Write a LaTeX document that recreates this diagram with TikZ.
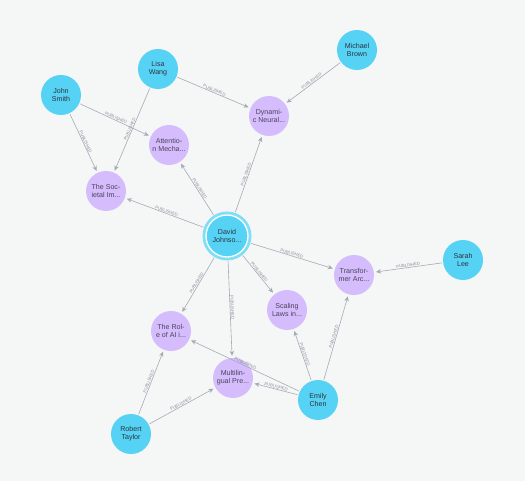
\documentclass[tikz,border=0pt]{standalone}
\usepackage{fontspec}
\setmainfont{Liberation Sans}
\usetikzlibrary{arrows.meta}
\definecolor{bg}{HTML}{F5F6F6}
\definecolor{person}{HTML}{56D3F4}
\definecolor{paper}{HTML}{D5BCFD}
\definecolor{edge}{HTML}{A5ABB6}
\definecolor{ptext}{HTML}{2A3440}
\definecolor{wtext}{HTML}{4A4458}
\definecolor{ltext}{HTML}{8A8F98}
\tikzset{
  pnode/.style={circle, fill=person, minimum size=40pt, inner sep=0pt, align=center, text=ptext, font=\fontsize{7.1}{8}\selectfont},
  wnode/.style={circle, fill=paper, minimum size=40pt, inner sep=0pt, align=center, text=wtext, font=\fontsize{7.1}{8}\selectfont},
  rel/.style={draw=edge, line width=0.6pt, -{Stealth[length=5pt,width=4.5pt]}, shorten >=2pt, shorten <=1pt},
  lab/.style={sloped, above, inner sep=0.6pt, text=ltext, font=\fontsize{4.2}{4.2}\selectfont}
}
\begin{document}
\begin{tikzpicture}[x=1pt,y=-1pt]
\fill[bg] (0,0) rectangle (525,481);
\useasboundingbox (0,0) rectangle (525,481);
% papers
\node[wnode] (dyn) at (269,116) {Dynami-\\c Neural...};
\node[wnode] (att) at (169,145) {Attentio-\\n Mecha...};
\node[wnode] (soc) at (106,191) {The Soc-\\ietal Im...};
\node[wnode] (tra) at (354,275) {Transfor-\\mer Arc...};
\node[wnode] (sca) at (287,310) {Scaling\\Laws in...};
\node[wnode] (rol) at (171,331) {The Rol-\\e of AI i...};
\node[wnode] (mul) at (233,378) {Multilin-\\gual Pre...};
% people
\node[pnode] (john) at (61,95) {John\\Smith};
\node[pnode] (lisa) at (158,69) {Lisa\\Wang};
\node[pnode] (mich) at (357,50) {Michael\\Brown};
\node[pnode] (sara) at (463,260) {Sarah\\Lee};
\node[pnode] (emil) at (318,400) {Emily\\Chen};
\node[pnode] (robt) at (131,434) {Robert\\Taylor};
\fill[person!75] (227,236) circle (24.5);
\node[pnode, draw=white, line width=1.3pt, minimum size=42pt] (dav) at (227,236) {David\\Johnso...};
% edges
\draw[rel] (john) -- node[lab] {PUBLISHED} (att);
\draw[rel] (john) -- node[lab] {PUBLISHED} (soc);
\draw[rel] (lisa) -- node[lab] {PUBLISHED} (soc);
\draw[rel] (lisa) -- node[lab] {PUBLISHED} (dyn);
\draw[rel] (mich) -- node[lab] {PUBLISHED} (dyn);
\draw[rel, shorten <=3.5pt] (dav) -- node[lab] {PUBLISHED} (dyn);
\draw[rel, shorten <=3.5pt] (dav) -- node[lab] {PUBLISHED} (att);
\draw[rel, shorten <=3.5pt] (dav) -- node[lab] {PUBLISHED} (soc);
\draw[rel, shorten <=3.5pt] (dav) -- node[lab] {PUBLISHED} (tra);
\draw[rel, shorten <=3.5pt] (dav) -- node[lab] {PUBLISHED} (sca);
\draw[rel, shorten <=3.5pt] (dav) -- node[lab] {PUBLISHED} (rol);
\draw[rel, shorten <=3.5pt] (dav) -- node[lab] {PUBLISHED} (mul);
\draw[rel] (sara) -- node[lab] {PUBLISHED} (tra);
\draw[rel] (emil) -- node[lab] {PUBLISHED} (tra);
\draw[rel] (emil) -- node[lab] {PUBLISHED} (sca);
\draw[rel] (emil) -- node[lab] {PUBLISHED} (mul);
\draw[rel] (emil) -- node[lab] {PUBLISHED} (rol);
\draw[rel] (robt) -- node[lab] {PUBLISHED} (rol);
\draw[rel] (robt) -- node[lab] {PUBLISHED} (mul);
\end{tikzpicture}
\end{document}
